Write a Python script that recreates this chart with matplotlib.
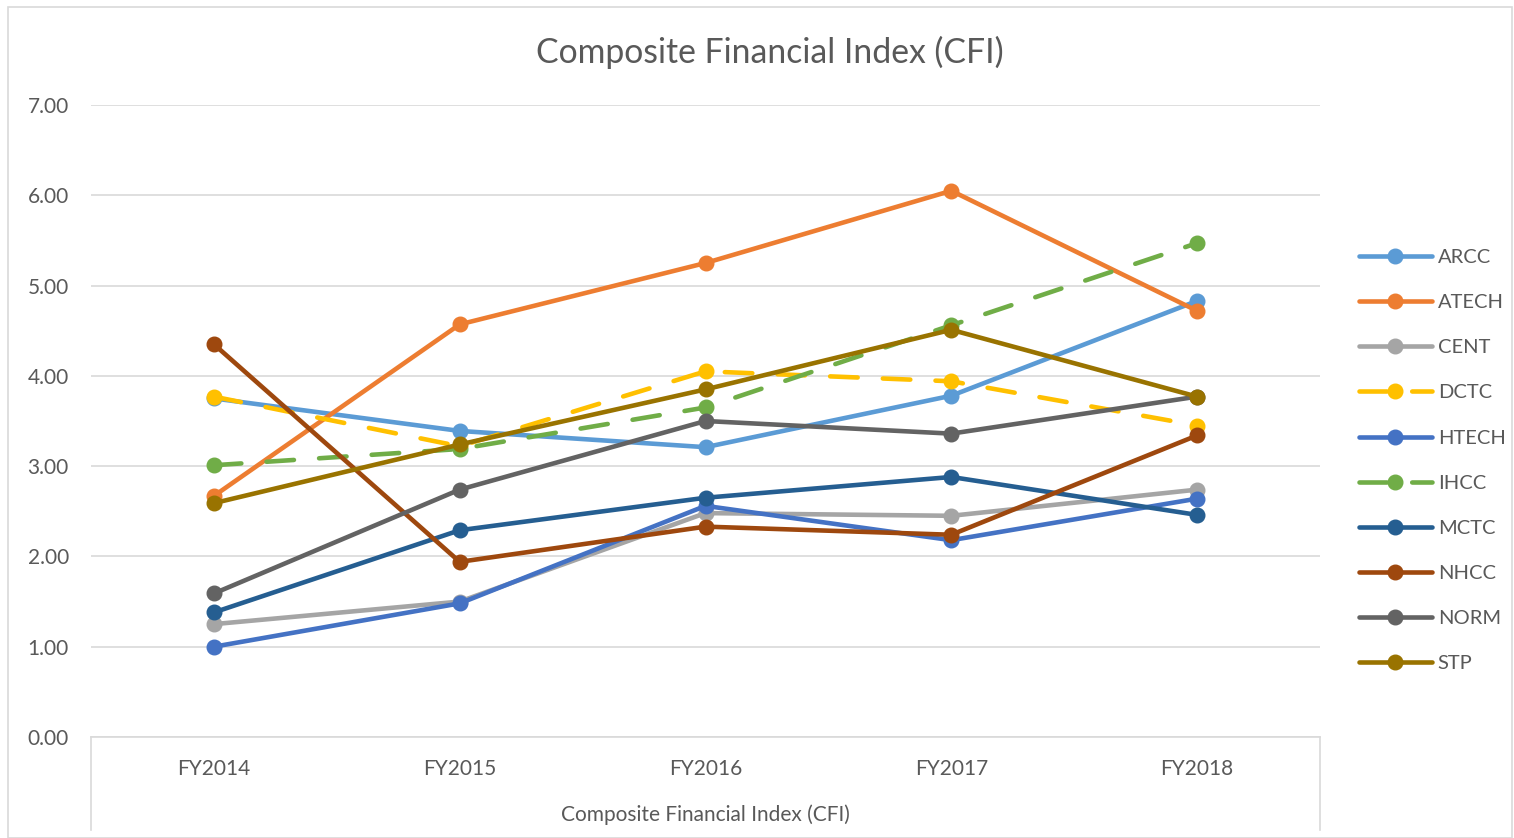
import matplotlib
matplotlib.use("Agg")
import matplotlib.pyplot as plt
from matplotlib.lines import Line2D
from matplotlib.patches import Rectangle

years = ["FY2014", "FY2015", "FY2016", "FY2017", "FY2018"]

ARCC = [3.75, 3.39, 3.21, 3.78, 4.83]
ATECH = [2.67, 4.57, 5.25, 6.05, 4.72]
CENT = [1.25, 1.50, 2.48, 2.45, 2.74]
DCTC = [3.77, 3.22, 4.05, 3.94, 3.45]
HTECH = [1.00, 1.48, 2.56, 2.18, 2.64]
IHCC = [3.01, 3.19, 3.65, 4.56, 5.47]
MCTC = [1.38, 2.29, 2.65, 2.88, 2.46]
NHCC = [4.35, 1.94, 2.33, 2.24, 3.34]
NORM = [1.59, 2.74, 3.50, 3.36, 3.77]
STP = [2.59, 3.24, 3.85, 4.51, 3.77]

series_names = ["ARCC", "ATECH", "CENT", "DCTC", "HTECH", "IHCC", "MCTC", "NHCC", "NORM", "STP"]
series_values = [ARCC, ATECH, CENT, DCTC, HTECH, IHCC, MCTC, NHCC, NORM, STP]
colors = ["#5B9BD5", "#ED7D31", "#A5A5A5", "#FFC000", "#4472C4",
          "#70AD47", "#255E91", "#9E480E", "#636363", "#997300"]
dashed = {"DCTC", "IHCC"}

plt.rcParams['font.family'] = ['Lato', 'DejaVu Sans']

W, H = 1514, 838
fig = plt.figure(figsize=(W / 100, H / 100), dpi=100)
text_col = "#595959"
grid_col = "#D9D9D9"

# outer chart border
fig.patches.append(Rectangle((8 / W, 0), (1512 - 8) / W, (H - 7) / H, transform=fig.transFigure,
                             fill=False, edgecolor=grid_col, linewidth=1.2))

left, right, top, bottom = 91, 1320, 105, 737
ax = fig.add_axes([left / W, 1 - bottom / H, (right - left) / W, (bottom - top) / H])

x = list(range(len(years)))
handles = []
for name, vals, col in zip(series_names, series_values, colors):
    if name in dashed:
        ln, = ax.plot(x, vals, color=col, lw=3.3, marker="o", markersize=10.5,
                      dashes=(6, 5.5), dash_capstyle="round", solid_capstyle="round",
                      zorder=3)
    else:
        ln, = ax.plot(x, vals, color=col, lw=3.3, marker="o", markersize=10.5,
                      solid_capstyle="round", zorder=3)
    handles.append(ln)

ax.set_xlim(-0.5, 4.5)
ax.set_ylim(0, 7)
ax.set_yticks([0, 1, 2, 3, 4, 5, 6, 7])
ax.set_yticklabels([f"{v:.2f}" for v in range(8)])
ax.set_xticks(x)
ax.set_xticklabels(years)
ax.yaxis.grid(True, color=grid_col, lw=1.2)
ax.set_axisbelow(True)
for s in ["top", "right", "left"]:
    ax.spines[s].set_visible(False)
ax.spines["bottom"].set_color(grid_col)
ax.spines["bottom"].set_linewidth(1.2)
ax.tick_params(axis="both", length=0, colors=text_col, labelsize=15)
ax.tick_params(axis="y", pad=16)
ax.tick_params(axis="x", pad=16)

# multi-level category box lines
for xp in (left, right):
    fig.add_artist(Line2D([xp / W, xp / W], [1 - bottom / H, 1 - 830 / H],
                          color=grid_col, lw=1.2, transform=fig.transFigure))

fig.text((left + right) / 2 / W, 1 - 815 / H, "Composite Financial Index (CFI)",
         ha="center", va="center", fontsize=15, color=text_col)
fig.text(770 / W, 1 - 52 / H, "Composite Financial Index (CFI)",
         ha="center", va="center", fontsize=24.3, color=text_col)

leg = fig.legend(handles, series_names, loc="upper left",
                 bbox_to_anchor=(1341 / W, 1 - 231 / H), frameon=False,
                 fontsize=14.5, labelcolor=text_col, handlelength=3.6,
                 handletextpad=0.3, labelspacing=1.39)

fig.savefig("out.png", dpi=100)
